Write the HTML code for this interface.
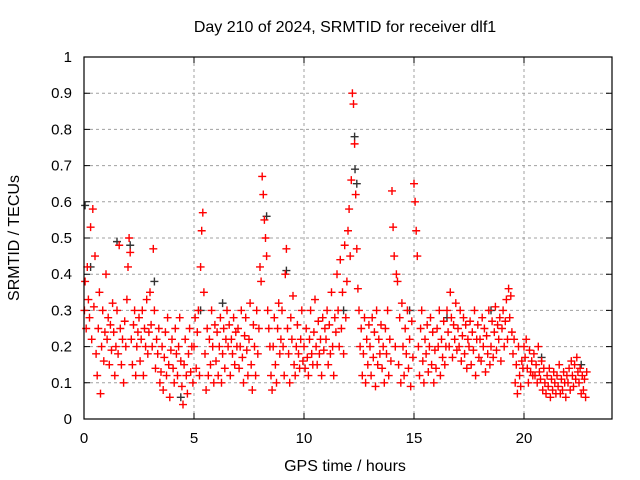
<!DOCTYPE html>
<html><head><meta charset="utf-8"><style>
body{margin:0;background:#fff}
svg{display:block;font-family:"Liberation Sans",sans-serif}
</style></head><body>
<svg id="chart" width="640" height="480">
<text x="345" y="32" text-anchor="middle" font-size="16">Day 210 of 2024, SRMTID for receiver dlf1</text>
<text x="345" y="471" text-anchor="middle" font-size="16">GPS time / hours</text>
<text transform="translate(19,238) rotate(-90)" text-anchor="middle" font-size="16">SRMTID / TECUs</text>
<g id="grid"></g>
<g id="black"></g>
<g id="red"></g>
<rect x="84" y="57" width="528" height="362" fill="none" stroke="#000" stroke-width="1.2"/>
</svg>
<script>
const xTicks=[0,5,10,15,20];
const yTicks=[0,0.1,0.2,0.3,0.4,0.5,0.6,0.7,0.8,0.9,1];
const yTickLabels=["0","0.1","0.2","0.3","0.4","0.5","0.6","0.7","0.8","0.9","1"];
const hoursRed=[
0.02,0.05,0.1,0.15,0.2,0.25,0.3,0.35,0.4,0.45,
0.5,0.55,0.6,0.65,0.7,0.75,0.8,0.85,0.9,0.95,
1.0,1.05,1.1,1.15,1.2,1.25,1.3,1.35,1.4,1.45,
1.5,1.55,1.6,1.65,1.7,1.75,1.8,1.85,1.9,1.95,
2.0,2.05,2.1,2.15,2.2,2.25,2.3,2.35,2.4,2.45,
2.5,2.55,2.6,2.65,2.7,2.75,2.8,2.85,2.9,2.95,
3.0,3.05,3.1,3.15,3.2,3.25,3.3,3.35,3.4,3.45,
3.5,3.55,3.6,3.65,3.7,3.75,3.8,3.85,3.9,3.95,
4.0,4.05,4.1,4.15,4.2,4.25,4.3,4.35,4.4,4.45,
4.5,4.55,4.6,4.65,4.7,4.75,4.8,4.85,4.9,4.95,
5.0,5.05,5.1,5.15,5.2,5.25,5.3,5.35,5.4,5.45,
5.5,5.55,5.6,5.65,5.7,5.75,5.8,5.85,5.9,5.95,
6.0,6.05,6.1,6.15,6.2,6.25,6.3,6.35,6.4,6.45,
6.5,6.55,6.6,6.65,6.7,6.75,6.8,6.85,6.9,6.95,
7.0,7.05,7.1,7.15,7.2,7.25,7.3,7.35,7.4,7.45,
7.5,7.55,7.6,7.65,7.7,7.75,7.8,7.85,7.9,7.95,
8.0,8.05,8.1,8.15,8.2,8.25,8.3,8.35,8.4,8.45,
8.5,8.55,8.6,8.65,8.7,8.75,8.8,8.85,8.9,8.95,
9.0,9.05,9.1,9.15,9.2,9.25,9.3,9.35,9.4,9.45,
9.5,9.55,9.6,9.65,9.7,9.75,9.8,9.85,9.9,9.95,
10.0,10.05,10.1,10.15,10.2,10.25,10.3,10.35,10.4,10.45,
10.5,10.55,10.6,10.65,10.7,10.75,10.8,10.85,10.9,10.95,
11.0,11.05,11.1,11.15,11.2,11.25,11.3,11.35,11.4,11.45,
11.5,11.55,11.6,11.65,11.7,11.75,11.8,11.85,11.9,11.95,
12.0,12.05,12.1,12.15,12.2,12.25,12.3,12.35,12.4,12.45,
12.5,12.55,12.6,12.65,12.7,12.75,12.8,12.85,12.9,12.95,
13.0,13.05,13.1,13.15,13.2,13.25,13.3,13.35,13.4,13.45,
13.5,13.55,13.6,13.65,13.7,13.75,13.8,13.85,13.9,13.95,
14.0,14.05,14.1,14.15,14.2,14.25,14.3,14.35,14.4,14.45,
14.5,14.55,14.6,14.65,14.7,14.75,14.8,14.85,14.9,14.95,
15.0,15.05,15.1,15.15,15.2,15.25,15.3,15.35,15.4,15.45,
15.5,15.55,15.6,15.65,15.7,15.75,15.8,15.85,15.9,15.95,
16.0,16.05,16.1,16.15,16.2,16.25,16.3,16.35,16.4,16.45,
16.5,16.55,16.6,16.65,16.7,16.75,16.8,16.85,16.9,16.95,
17.0,17.05,17.1,17.15,17.2,17.25,17.3,17.35,17.4,17.45,
17.5,17.55,17.6,17.65,17.7,17.75,17.8,17.85,17.9,17.95,
18.0,18.05,18.1,18.15,18.2,18.25,18.3,18.35,18.4,18.45,
18.5,18.55,18.6,18.65,18.7,18.75,18.8,18.85,18.9,18.95,
19.0,19.05,19.1,19.15,19.2,19.25,19.3,19.35,19.4,19.45,
19.5,19.55,19.6,19.65,19.7,19.75,19.8,19.85,19.9,19.95,
20.0,20.05,20.1,20.15,20.2,20.25,20.3,20.35,20.4,20.45,
20.5,20.55,20.6,20.65,20.7,20.75,20.8,20.85,20.9,20.95,
21.0,21.05,21.1,21.15,21.2,21.25,21.3,21.35,21.4,21.45,
21.5,21.55,21.6,21.65,21.7,21.75,21.8,21.85,21.9,21.95,
22.0,22.05,22.1,22.15,22.2,22.25,22.3,22.35,22.4,22.45,
22.5,22.55,22.6,22.65,22.7,22.75,22.8,22.85];
const srmtidRed=[
0.30,0.38,0.25,0.42,0.33,0.28,0.53,0.22,0.58,0.31,
0.45,0.18,0.12,0.25,0.35,0.07,0.2,0.3,0.16,0.24,
0.40,0.22,0.28,0.15,0.26,0.19,0.32,0.24,0.12,0.2,
0.3,0.18,0.48,0.25,0.15,0.22,0.1,0.27,0.2,0.33,
0.42,0.5,0.46,0.22,0.15,0.26,0.3,0.12,0.2,0.24,
0.28,0.16,0.22,0.3,0.12,0.25,0.2,0.33,0.18,0.24,
0.35,0.26,0.2,0.47,0.3,0.14,0.22,0.18,0.25,0.1,
0.13,0.2,0.08,0.17,0.24,0.12,0.28,0.15,0.06,0.19,
0.22,0.14,0.1,0.25,0.18,0.12,0.2,0.28,0.16,0.09,
0.04,0.15,0.22,0.12,0.07,0.18,0.25,0.13,0.2,0.1,
0.2,0.28,0.14,0.24,0.3,0.12,0.42,0.52,0.57,0.35,
0.18,0.08,0.25,0.12,0.22,0.15,0.3,0.2,0.1,0.26,
0.16,0.24,0.12,0.2,0.28,0.1,0.18,0.25,0.14,0.22,
0.3,0.2,0.26,0.12,0.22,0.18,0.28,0.15,0.24,0.2,
0.25,0.14,0.2,0.3,0.17,0.1,0.23,0.28,0.19,0.12,
0.22,0.32,0.15,0.08,0.26,0.2,0.12,0.3,0.18,0.25,
0.42,0.38,0.67,0.62,0.55,0.5,0.45,0.3,0.25,0.2,
0.12,0.08,0.2,0.28,0.15,0.1,0.25,0.32,0.18,0.22,
0.3,0.2,0.12,0.4,0.47,0.25,0.18,0.1,0.28,0.22,
0.34,0.15,0.12,0.2,0.26,0.18,0.14,0.22,0.3,0.16,
0.2,0.14,0.25,0.17,0.12,0.22,0.3,0.18,0.15,0.24,
0.33,0.2,0.15,0.27,0.18,0.22,0.12,0.28,0.19,0.25,
0.22,0.3,0.15,0.26,0.18,0.35,0.2,0.12,0.28,0.24,
0.4,0.3,0.2,0.44,0.25,0.35,0.18,0.48,0.28,0.38,
0.52,0.58,0.45,0.66,0.9,0.87,0.76,0.62,0.47,0.36,
0.3,0.2,0.25,0.12,0.18,0.28,0.1,0.22,0.15,0.26,
0.2,0.12,0.28,0.17,0.24,0.09,0.3,0.15,0.22,0.18,
0.26,0.14,0.2,0.1,0.25,0.18,0.3,0.12,0.22,0.16,
0.63,0.53,0.45,0.2,0.4,0.38,0.15,0.28,0.1,0.32,
0.2,0.12,0.25,0.18,0.3,0.14,0.22,0.09,0.27,0.17,
0.65,0.6,0.52,0.45,0.2,0.12,0.25,0.3,0.16,0.1,
0.22,0.18,0.26,0.13,0.2,0.28,0.15,0.24,0.1,0.19,
0.14,0.25,0.2,0.3,0.12,0.22,0.17,0.27,0.15,0.2,
0.3,0.24,0.2,0.35,0.28,0.17,0.26,0.22,0.32,0.19,
0.25,0.2,0.3,0.16,0.23,0.28,0.18,0.26,0.14,0.22,
0.2,0.27,0.15,0.24,0.19,0.3,0.12,0.22,0.26,0.17,
0.22,0.16,0.28,0.2,0.25,0.13,0.23,0.18,0.3,0.15,
0.2,0.27,0.17,0.24,0.31,0.19,0.26,0.22,0.28,0.16,
0.25,0.3,0.2,0.27,0.33,0.22,0.36,0.28,0.34,0.24,
0.18,0.22,0.1,0.15,0.07,0.2,0.12,0.09,0.16,0.14,
0.2,0.17,0.22,0.14,0.1,0.19,0.13,0.16,0.12,0.18,
0.12,0.15,0.1,0.2,0.13,0.11,0.16,0.08,0.14,0.1,
0.07,0.12,0.09,0.14,0.06,0.11,0.08,0.13,0.1,0.07,
0.12,0.09,0.15,0.07,0.11,0.08,0.13,0.1,0.06,0.12,
0.1,0.14,0.08,0.16,0.12,0.09,0.15,0.11,0.17,0.13,
0.1,0.14,0.07,0.12,0.08,0.11,0.06,0.13];
const hoursBlack=[0.05,0.3,1.5,2.1,3.2,4.4,5.3,6.3,8.3,9.2,11.8,12.3,12.32,12.4,14.8,16.5,18.5,20.8,22.6];
const srmtidBlack=[0.59,0.42,0.49,0.48,0.38,0.06,0.3,0.32,0.56,0.41,0.3,0.78,0.69,0.65,0.3,0.28,0.3,0.17,0.15];

const L=84,R=612,T=57,B=419,XMAX=24;
const xs=h=>L+(R-L)*h/XMAX;
const ys=v=>B-(B-T)*v;
const NS="http://www.w3.org/2000/svg";
function mk(tag,attrs,parent){const e=document.createElementNS(NS,tag);for(const k in attrs)e.setAttribute(k,attrs[k]);parent.appendChild(e);return e;}
const grid=document.getElementById('grid');
const svg=document.getElementById('chart');
xTicks.forEach(t=>{
  const x=xs(t);
  if(t>0){const g=mk('line',{x1:x,x2:x,y1:T,y2:B,stroke:'#a0a0a0','stroke-dasharray':'3,3','stroke-width':1},grid);
  
  }
  const tk=mk('path',{d:`M${x},${B}v-6M${x},${T}v6`,stroke:'#000'},grid);
  
  
  const lb=mk('text',{x:x,y:B+24,'text-anchor':'middle','font-size':15},svg);
  lb.textContent=String(t);
  
  
});
yTicks.forEach((t,i)=>{
  const y=ys(t);
  if(t>0&&t<1){const g=mk('line',{x1:L,x2:R,y1:y,y2:y,stroke:'#a0a0a0','stroke-dasharray':'3,3','stroke-width':1},grid);
  
  }
  const tk=mk('path',{d:`M${L},${y}h6M${R},${y}h-6`,stroke:'#000'},grid);
  
  
  const lb=mk('text',{x:L-12,y:y+5,'text-anchor':'end','font-size':15},svg);
  lb.textContent=yTickLabels[i];
  
  
});
function plus(g,h,v,col){
  const x=xs(h),y=ys(v);
  const p=mk('path',{d:`M${x-4},${y}h8M${x},${y-4}v8`,stroke:col,'stroke-width':1.4},g);
  
  
}
const gb=document.getElementById('black'),gr=document.getElementById('red');
hoursBlack.forEach((h,i)=>plus(gb,h,srmtidBlack[i],'#333'));
hoursRed.forEach((h,i)=>plus(gr,h,srmtidRed[i],'#ff0000'));
</script>
</body></html>
